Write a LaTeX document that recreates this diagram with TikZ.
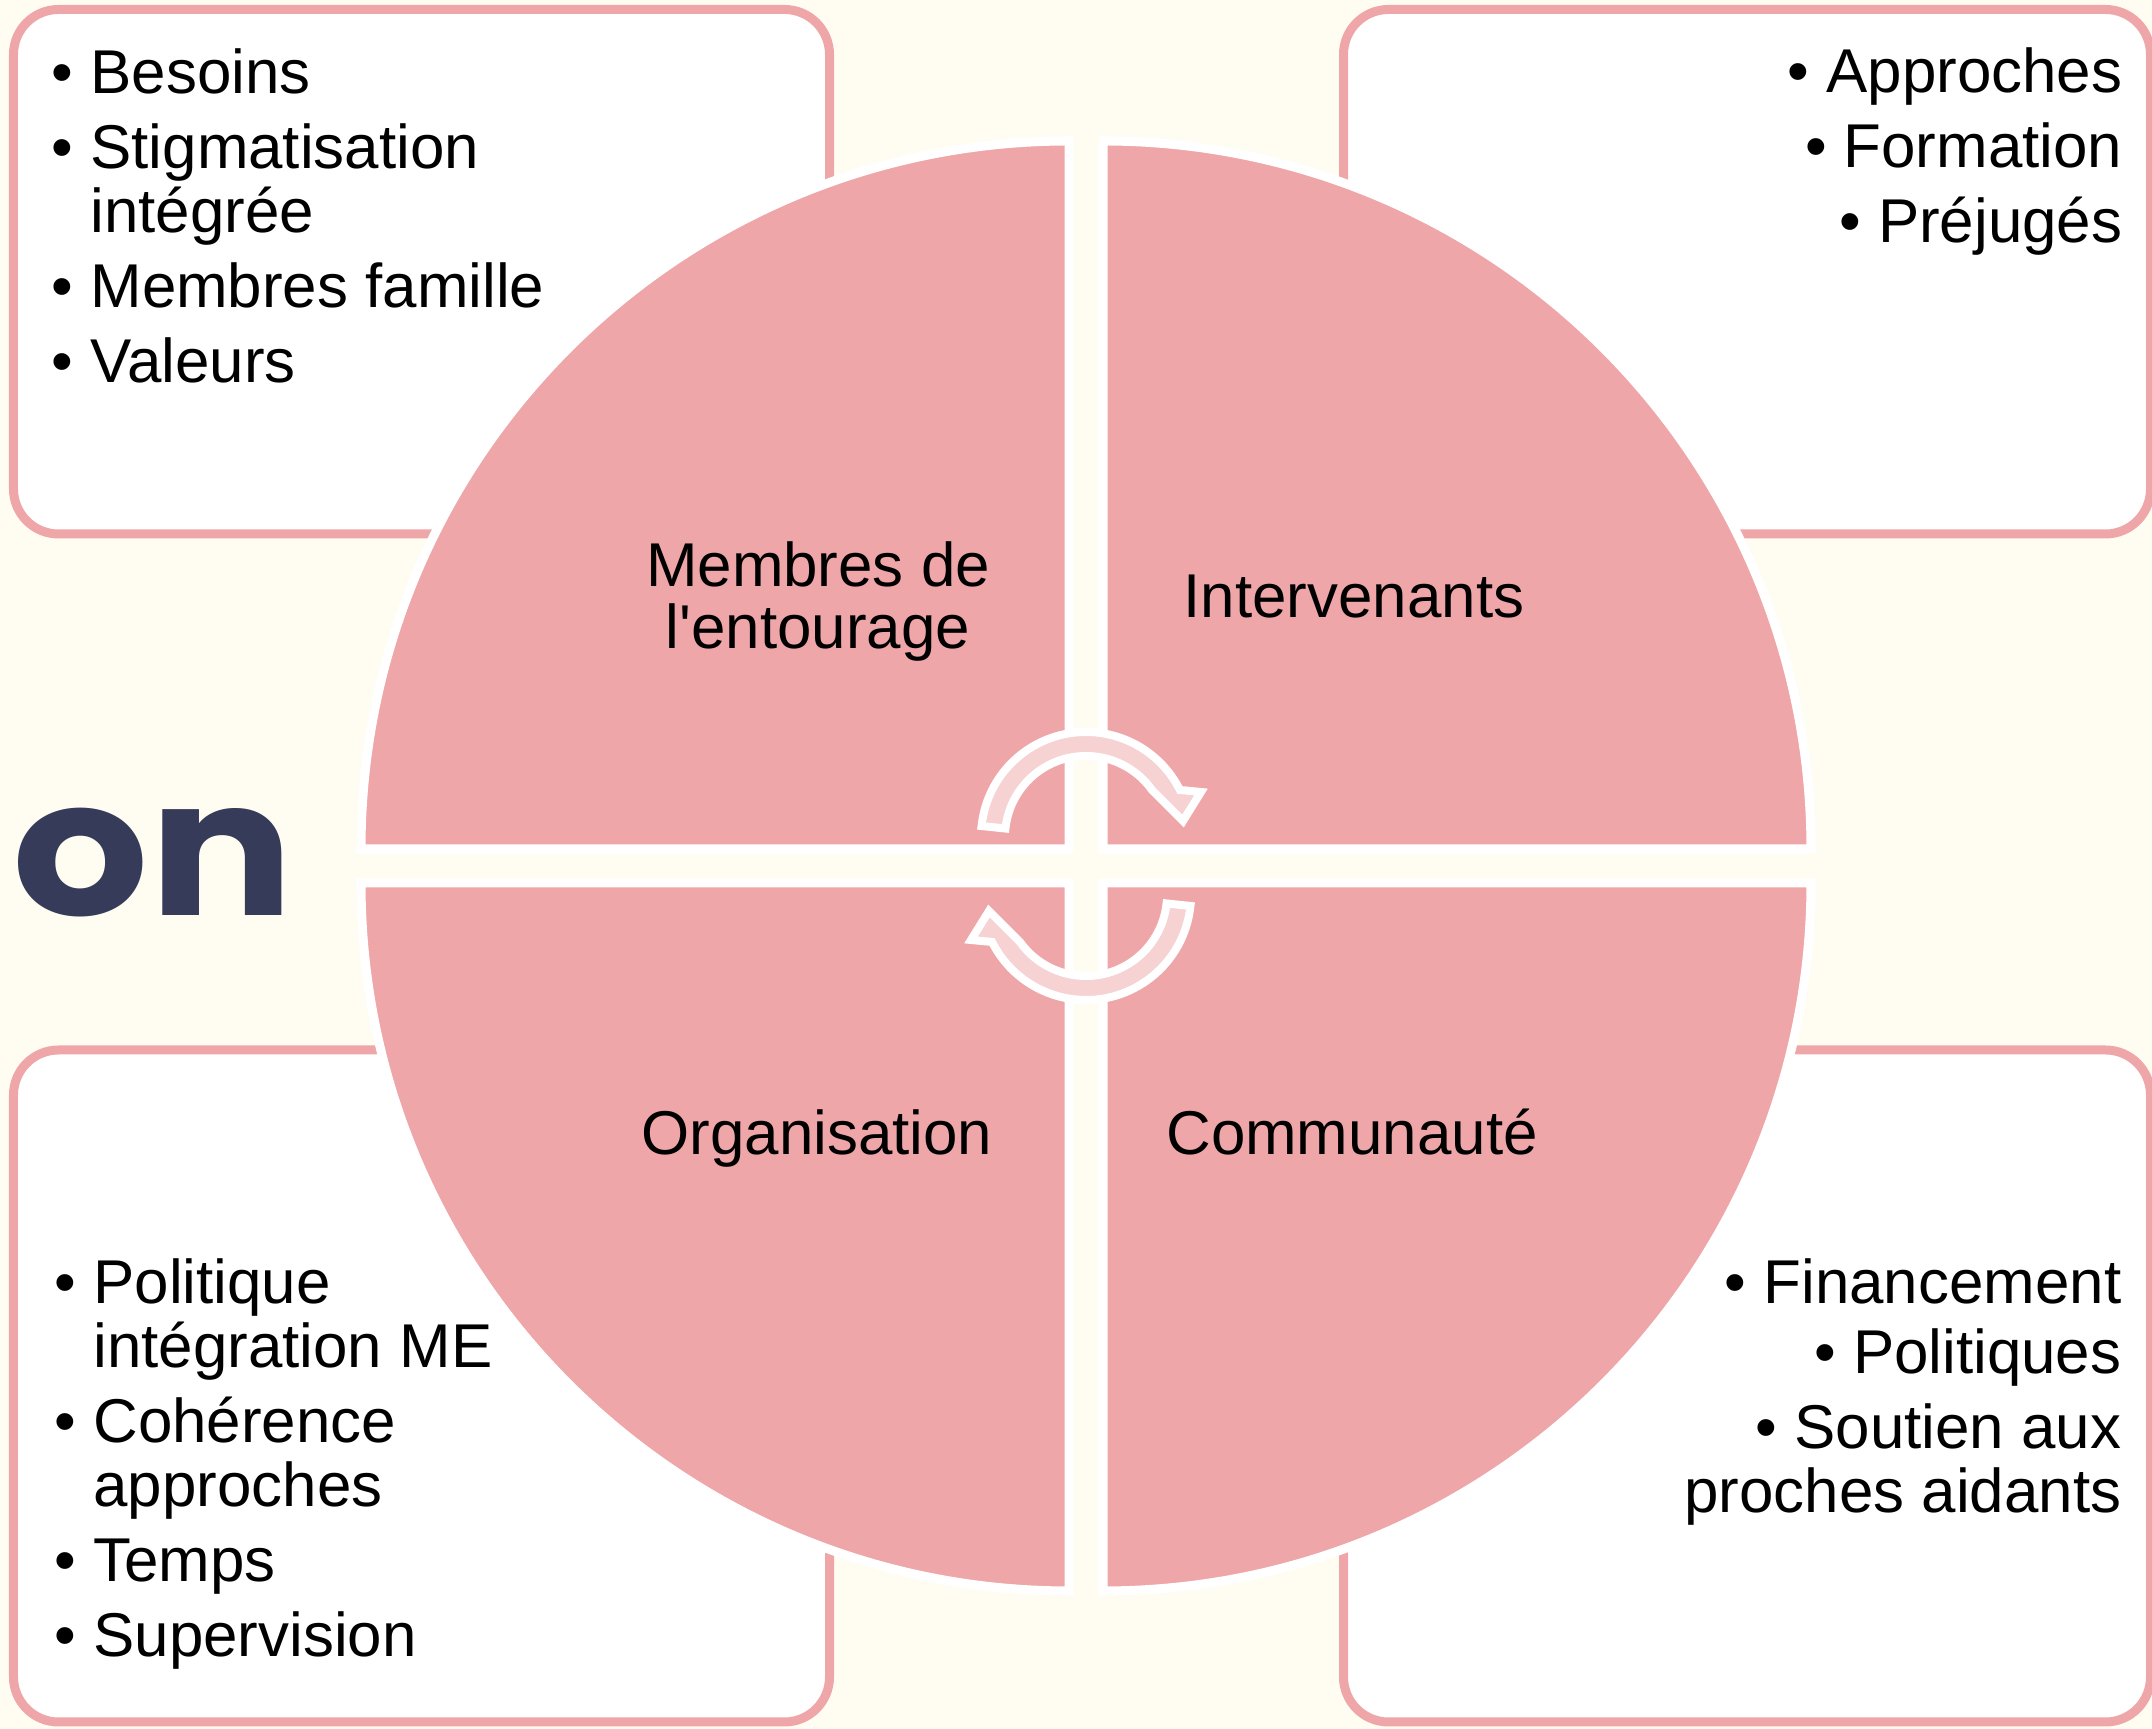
\documentclass[tikz,border=0pt]{standalone}
\usepackage{fontspec}
\setmainfont{Liberation Sans}
\newfontfamily\titlefont{Poppins}
\usetikzlibrary{calc}
\usetikzlibrary{positioning}
\definecolor{cream}{RGB}{255,253,242}
\definecolor{petal}{RGB}{239,166,168}
\definecolor{petalLight}{RGB}{246,210,211}
\definecolor{slate}{RGB}{53,59,88}
\newcommand{\rimColor}{petal}
\newcommand{\gap}{0.11cm}
\tikzset{card/.style = {draw=\rimColor, line width=0.09cm, fill=white, rounded corners=0.45cm}}
\tikzset{quarter/.style = {fill=petal, draw=white, line width=0.09cm}}
\tikzset{turn/.style = {fill=petalLight, draw=white, line width=0.08cm}}
\tikzset{sector/.style = {inner sep=0pt, align=center, font=\fontsize{17.6}{17.4}\selectfont}}
\tikzset{points/.style = {inner sep=0pt, font=\fontsize{17.6}{18.2}\selectfont}}

\begin{document}
\begin{tikzpicture}
                    \def\R{7.08}
                    \def\g{0.17}
                    \useasboundingbox[fill=cream] (0,0) rectangle (21.52,17.29);
                    \coordinate (O) at (10.86,8.63);

                    \node[anchor=base west, inner sep=0pt, text=slate,
                          font=\titlefont\bfseries\fontsize{54}{54}\selectfont] (on) at (0.12,8.13) {\scalebox{1.13}[1]{on}};

                    \draw[card] (0.135,11.95) rectangle (8.295,17.195);
                    \draw[card] (13.435,11.95) rectangle (21.505,17.195);
                    \draw[card] (0.135,0.07) rectangle (8.295,6.79);
                    \draw[card] (13.435,0.07) rectangle (21.505,6.79);

                    \filldraw[quarter] ($(O)+(-\g,\g)$) -- ++(-\R,0) arc[start angle=180, end angle=90, radius=\R] -- cycle;
                    \filldraw[quarter] ($(O)+(\g,\g)$) -- ++(\R,0) arc[start angle=0, end angle=90, radius=\R] -- cycle;
                    \filldraw[quarter] ($(O)+(-\g,-\g)$) -- ++(-\R,0) arc[start angle=180, end angle=270, radius=\R] -- cycle;
                    \filldraw[quarter] ($(O)+(\g,-\g)$) -- ++(\R,0) arc[start angle=0, end angle=-90, radius=\R] -- cycle;

                    % the lower arrow is the upper one turned half a circle
                    \foreach \a in {0,180} {
                        \begin{scope}[shift={(O)}, rotate=\a, shift={(0,0.29)}]
                            \filldraw[turn] (174:1.05) arc[start angle=174, end angle=26.6, radius=1.05]
                                -- (1.15,0.45) -- (0.97,0.16) -- (35.5:0.81)
                                arc[start angle=35.5, end angle=174, radius=0.81] -- cycle;
                        \end{scope}
                    }

                    \node[sector] (entourage) at ($(O)+(-2.68,2.645)$) {Membres de\\l\textquotesingle entourage};
                    \node[sector, anchor=base] (intervenants) at ($(O)+(2.68,2.48)$) {Intervenants};
                    \node[sector, anchor=base] (organisation) at ($(O)+(-2.69,-2.89)$) {Organisation};
                    \node[sector, anchor=base] (communaute) at ($(O)+(2.66,-2.89)$) {Communauté};

                    \node[points, anchor=north west, align=left] (needs) at (0.51,16.81)
                        {\textbullet\ Besoins\\[\gap]
                         \textbullet\ Stigmatisation\\
                         \phantom{\textbullet\ }intégrée\\[\gap]
                         \textbullet\ Membres famille\\[\gap]
                         \textbullet\ Valeurs};
                    \node[points, anchor=north east, align=right] (practice) at (21.23,16.82)
                        {\textbullet\ Approches\\[\gap]
                         \textbullet\ Formation\\[\gap]
                         \textbullet\ Préjugés};
                    \node[points, anchor=north west, align=left] (setting) at (0.54,4.71)
                        {\textbullet\ Politique\\
                         \phantom{\textbullet\ }intégration ME\\[\gap]
                         \textbullet\ Cohérence\\
                         \phantom{\textbullet\ }approches\\[\gap]
                         \textbullet\ Temps\\[\gap]
                         \textbullet\ Supervision};
                    \node[points, anchor=north east, align=right] (support) at (21.22,4.71)
                        {\textbullet\ Financement\\[0.06cm]
                         \textbullet\ Politiques\\[\gap]
                         \textbullet\ Soutien aux\\
                         proches aidants};
                \end{tikzpicture}
\end{document}
